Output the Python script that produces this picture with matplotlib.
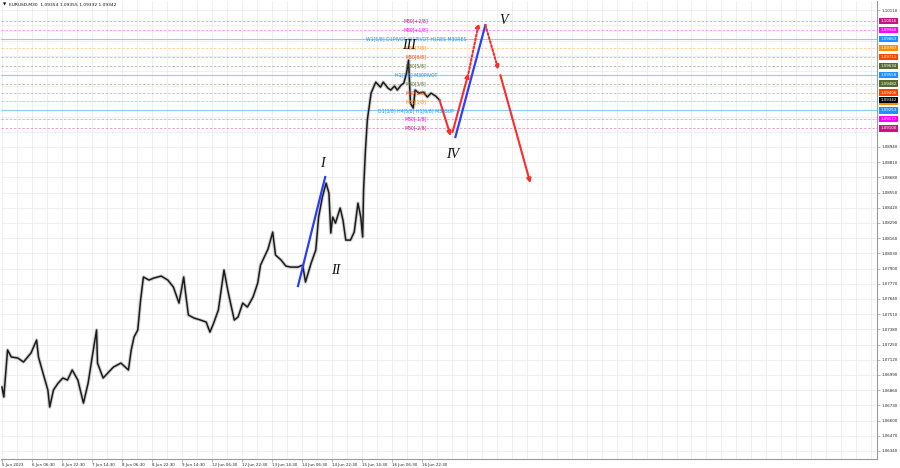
import matplotlib
matplotlib.use("Agg")
import matplotlib.pyplot as plt
from matplotlib.transforms import blended_transform_factory

# EURUSD M30 closes (bar index from the first visible bar)
bars = [0, 2, 6, 10, 17, 23, 31, 37, 39, 45, 49, 51, 55, 60, 65, 70, 75, 81, 87, 92,
        97, 101, 102, 108, 113, 119, 127, 135, 138, 141, 145, 148, 151, 157, 162, 170,
        177, 183, 189, 194, 196, 199, 205, 212, 218, 222, 226, 231, 237, 241, 244, 248,
        252, 257, 262, 268, 273, 276, 284, 289, 292, 298, 303, 308, 316, 321, 324, 330,
        335, 338, 342, 346, 349, 351, 353, 356, 361, 364, 367, 372, 376, 380, 383, 385,
        386, 388, 390, 394, 399, 404, 407, 412, 415, 419, 422, 426, 429, 432, 434, 436,
        439, 441, 445, 450, 454, 458, 463, 467]
closes = [1.06887, 1.06802, 1.07204, 1.07144, 1.07135, 1.07101, 1.07178, 1.07289, 1.07144,
          1.06973, 1.06862, 1.06716, 1.06862, 1.06921, 1.06964, 1.06947, 1.07033, 1.06947,
          1.06750, 1.06921, 1.07178, 1.07375, 1.07092, 1.06964, 1.07007, 1.07058, 1.07092,
          1.07033, 1.07204, 1.07315, 1.07375, 1.07631, 1.07828, 1.07802, 1.07819, 1.07836,
          1.07802, 1.07742, 1.07605, 1.07828, 1.07691, 1.07503, 1.07477, 1.07460, 1.07443,
          1.07357, 1.07434, 1.07546, 1.07888, 1.07717, 1.07605, 1.07460, 1.07486, 1.07605,
          1.07571, 1.07657, 1.07776, 1.07930, 1.08067, 1.08212, 1.08016, 1.07973, 1.07922,
          1.07913, 1.07913, 1.07930, 1.07785, 1.07947, 1.08059, 1.08341, 1.08512, 1.08631,
          1.08546, 1.08204, 1.08341, 1.08289, 1.08418, 1.08315, 1.08144, 1.08144, 1.08212,
          1.08460, 1.08341, 1.08170, 1.08572, 1.08914, 1.09170, 1.09401, 1.09495, 1.09452,
          1.09495, 1.09444, 1.09427, 1.09461, 1.09427, 1.09469, 1.09486, 1.09580, 1.09683,
          1.09315, 1.09273, 1.09427, 1.09401, 1.09409, 1.09367, 1.09401, 1.09375, 1.09342]

time_labels = ["5 Jun 2023", "6 Jun 06:30", "6 Jun 22:30", "7 Jun 14:30", "8 Jun 06:30",
               "8 Jun 22:30", "9 Jun 14:30", "12 Jun 06:30", "12 Jun 22:30", "13 Jun 14:30",
               "14 Jun 06:30", "14 Jun 22:30", "15 Jun 14:30", "16 Jun 06:30", "16 Jun 22:30"]

# Murrey / pivot levels
levels = [1.10016, 1.09940, 1.09863, 1.09787, 1.09711, 1.09634, 1.09558,
          1.09482, 1.09406, 1.09330, 1.09253, 1.09177, 1.09100]
level_names = ["M30[+2/8]", "M30[+1/8]", "W1[5/8] D1PIVOT W1PIVOT H1RES M30RES",
               "M30[7/8]", "M30[6/8]", "M30[5/8]", "H1[7/8] M30PIVOT", "M30[3/8]",
               "M30[2/8]", "M30[1/8]", "D1[3/8] H4[5/8] H1[6/8] M30SUP", "M30[-1/8]",
               "M30[-2/8]"]
level_colors = ["#c71585", "#ff00ff", "#1e90ff", "#ff8c00", "#ff4500", "#556b2f", "#1e90ff",
                "#556b2f", "#ff4500", "#ff8c00", "#1e90ff", "#ff00ff", "#c71585"]
level_solid = [False, False, True, False, False, False, True,
               False, False, False, True, False, False]
last_price = 1.09342

# wave count forecast
blue_start_bar = [316, 484]
blue_start_px = [1.07751, 1.09025]
blue_end_bar = [345, 516]
blue_end_px = [1.08683, 1.09983]

red_start_bar = [467, 481, 498, 516, 532]
red_start_px = [1.09342, 1.09068, 1.09572, 1.09983, 1.09555]
red_end_bar = [479, 498, 509, 530, 564]
red_end_px = [1.09034, 1.09572, 1.10000, 1.09598, 1.08631]
red_dotted = [False, False, True, True, False]

wave_names = ["I", "II", "III", "IV", "V"]
wave_bar = [342, 356, 434, 481, 535]
wave_px = [1.08803, 1.07888, 1.09811, 1.08879, 1.10025]

# price grid
price_step = 0.0013
price_ticks = [1.06340 + k * price_step for k in range(30)]
# labels under the coloured boxes are hidden in the terminal
shown_ticks = [p for p in price_ticks if p < 1.0900 or p > 1.1010]

fig = plt.figure(figsize=(9, 4.68), dpi=100)
ax = fig.add_axes([1 / 900, 9 / 468, 876 / 900, 458 / 468])

px_per_price = 15.2 / price_step
ax.set_ylim(1.06340 - 8 / px_per_price, 1.06340 + 450 / px_per_price)
ax.set_xlim(-1, 934)

# grid
for gx in range(0, 934, 16):
    ax.axvline(gx, color="#e9e9e9", lw=0.5, zorder=0)
for gy in price_ticks:
    ax.axhline(gy, color="#e9e9e9", lw=0.5, zorder=0)

# levels
for lvl, c, solid in zip(levels, level_colors, level_solid):
    if solid:
        ax.axhline(lvl, color="#87cefa", lw=0.8, zorder=1)
    else:
        ax.axhline(lvl, color=c, lw=0.6, alpha=0.45, ls=(0, (3, 2)), zorder=1)

# price
ax.plot(bars, closes, color="#9a9a9a", lw=2.6, alpha=0.45, zorder=2)
ax.plot(bars, closes, color="#1a1a1a", lw=1.1, zorder=3)

# level names on chart
for lvl, name, c in zip(levels, level_names, level_colors):
    ax.text(442, lvl, name, color=c, fontsize=3.3, ha="center", va="center", zorder=4)

# forecast lines
for x0, y0, x1, y1 in zip(blue_start_bar, blue_start_px, blue_end_bar, blue_end_px):
    ax.plot([x0, x1], [y0, y1], color="#2b3dff", lw=1.6, zorder=5)
for x0, y0, x1, y1, dot in zip(red_start_bar, red_start_px, red_end_bar, red_end_px, red_dotted):
    ax.annotate("", xy=(x1, y1), xytext=(x0, y0),
                arrowprops=dict(arrowstyle="-|>", color="#ff2a2a", lw=1.5,
                                linestyle=(0, (1, 1)) if dot else "-",
                                mutation_scale=6, shrinkA=0, shrinkB=0),
                zorder=6)

for name, wb, wp in zip(wave_names, wave_bar, wave_px):
    ax.text(wb, wp, name, fontsize=10, style="italic", family="Liberation Serif",
            ha="center", va="center", color="#111111", zorder=7)

# axes styling
for s in ["top", "left"]:
    ax.spines[s].set_visible(False)
for s in ["right", "bottom"]:
    ax.spines[s].set_color("#9a9a9a")
    ax.spines[s].set_linewidth(0.8)

ax.yaxis.tick_right()
ax.set_yticks(shown_ticks)
ax.set_yticklabels([f"{p:.5f}" for p in shown_ticks])
ax.tick_params(axis="y", labelsize=2.9, length=2, width=0.5, pad=1.5, colors="#9a9a9a",
               labelcolor="#222222")
tick_bars = [32 * i for i in range(len(time_labels))]
ax.set_xticks(tick_bars)
ax.set_xticklabels(time_labels)
for lab in ax.get_xticklabels():
    lab.set_ha("left")
ax.tick_params(axis="x", labelsize=2.9, length=2, width=0.5, pad=1.0, colors="#9a9a9a",
               labelcolor="#222222")

# price boxes on right axis
trans = blended_transform_factory(ax.transAxes, ax.transData)
for lvl, c in zip(levels, level_colors):
    ax.text(1.004, lvl, f"{lvl:.5f}", transform=trans, color="white", fontsize=2.9,
            ha="left", va="center", clip_on=False, zorder=8,
            bbox=dict(boxstyle="square,pad=0.3", fc=c, ec="none"))
ax.text(1.004, last_price, f"{last_price:.5f}", transform=trans, color="white", fontsize=2.9,
        ha="left", va="center", clip_on=False, zorder=9,
        bbox=dict(boxstyle="square,pad=0.3", fc="black", ec="none"))

fig.text(3 / 900, 1 - 5 / 468, "\u25bc", fontsize=3, va="center", color="black")
fig.text(9 / 900, 1 - 5 / 468, "EURUSD,M30  1.09354 1.09355 1.09332 1.09342",
         fontsize=3.2, va="center", color="#111111")

fig.savefig("out.png", dpi=100)
